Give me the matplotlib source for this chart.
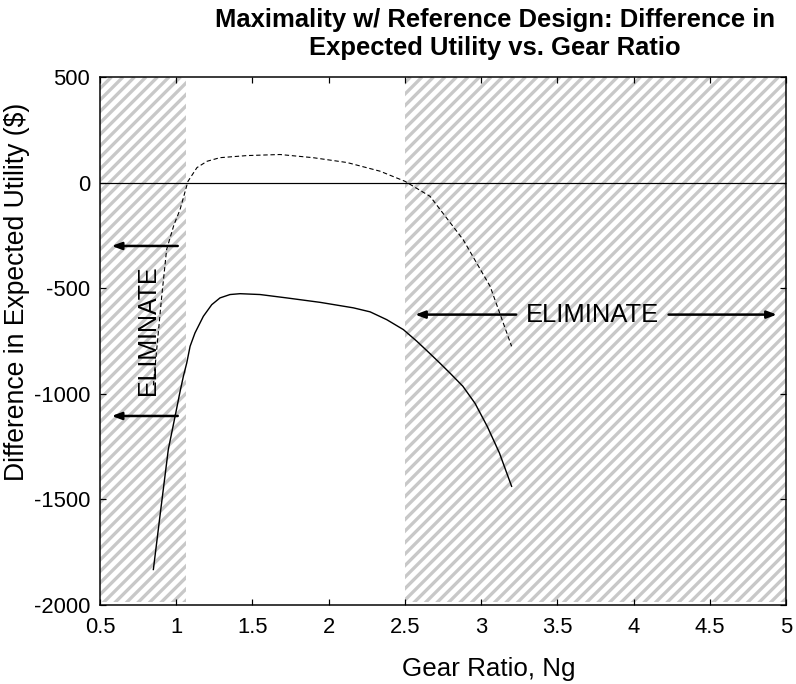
import numpy as np
import matplotlib
matplotlib.use("Agg")
import matplotlib.pyplot as plt
from matplotlib.collections import LineCollection
from matplotlib.patches import Rectangle
import matplotlib.transforms as mtransforms

plt.rcParams['font.family'] = ['Liberation Sans', 'DejaVu Sans']
plt.rcParams['axes.unicode_minus'] = False

# utility difference vs gear ratio
ng_solid = [0.85, 0.90, 0.948, 1.0, 1.025, 1.047, 1.069, 1.091, 1.123, 1.178,
            1.233, 1.287, 1.353, 1.419, 1.55, 1.725, 1.944, 2.162, 2.272,
            2.381, 2.49, 2.578, 2.665, 2.73, 2.80, 2.88, 2.96, 3.04, 3.12, 3.20]
du_solid = [-1832, -1540, -1264, -1080, -990, -917, -854, -775, -712, -633,
            -578, -546, -530, -526, -530, -546, -567, -593, -612,
            -649, -696, -751, -810, -855, -905, -964, -1045, -1154, -1280, -1438]

ng_dashed = [0.85, 0.872, 0.905, 0.937, 0.985, 1.025, 1.077, 1.136, 1.202, 1.287,
             1.465, 1.681, 1.898, 2.121, 2.337, 2.501, 2.665, 2.882, 3.059, 3.20]
du_dashed = [-960, -790, -538, -317, -200, -128, 6, 71, 101, 118,
             128, 133, 118, 95, 54, 6, -65, -270, -491, -775]

# regions ruled out
elim_low = [0.5, 1.064]
elim_high = [2.5, 5.0]
elim_y = [-1985, 500]

xticks = [0.5, 1, 1.5, 2, 2.5, 3, 3.5, 4, 4.5, 5]
xticklabels = ['0.5', '1', '1.5', '2', '2.5', '3', '3.5', '4', '4.5', '5']
yticks = [-2000, -1500, -1000, -500, 0, 500]

W, H = 796, 684
ax_w, ax_h = 686, 528
fig = plt.figure(figsize=(W / 72, H / 72), dpi=72)
ax = fig.add_axes([100 / W, 79 / H, ax_w / W, ax_h / H])

# diagonal stripe fill, laid out in axes pixels and clipped to each region
px = mtransforms.Affine2D().scale(1 / ax_w, 1 / ax_h) + ax.transAxes
offs = np.arange(-ax_h, ax_w + 12, 11.5)
segs = [[(c, 0), (c + ax_h, ax_h)] for c in offs]
for lo, hi in (elim_low, elim_high):
    box = Rectangle((lo, elim_y[0]), hi - lo, elim_y[1] - elim_y[0],
                    facecolor='none', edgecolor='none')
    ax.add_patch(box)
    lc = LineCollection(segs, colors='#c8c8c8', linewidths=3.3,
                        transform=px, zorder=0)
    ax.add_collection(lc)
    lc.set_clip_path(box)

ax.axhline(0, color='black', linewidth=1.2, zorder=2)
ax.plot(ng_dashed, du_dashed, color='black', linewidth=1.1,
        dashes=(4, 2.5), zorder=3)
ax.plot(ng_solid, du_solid, color='black', linewidth=1.4, zorder=3)

arrow = dict(arrowstyle='-|>,head_length=0.8,head_width=0.3',
             color='black', linewidth=2.5, shrinkA=0, shrinkB=0)
ax.annotate('', xy=(0.577, -300), xytext=(1.01, -300), arrowprops=arrow)
ax.annotate('', xy=(0.577, -1105), xytext=(1.01, -1105), arrowprops=arrow)
ax.text(0.815, -700, 'ELIMINATE', rotation=90, fontsize=25,
        ha='center', va='center')

ax.annotate('', xy=(2.567, -625), xytext=(3.23, -625), arrowprops=arrow)
ax.annotate('', xy=(4.94, -625), xytext=(4.23, -625), arrowprops=arrow)
ax.text(3.73, -625, 'ELIMINATE', fontsize=25.5, ha='center', va='center')

ax.set_xlim(0.5, 5)
ax.set_ylim(-2000, 500)
ax.set_xticks(xticks)
ax.set_xticklabels(xticklabels)
ax.set_yticks(yticks)
ax.tick_params(direction='in', length=6, width=1.2, labelsize=22,
               top=True, right=True)
ax.tick_params(axis='x', pad=12)
ax.tick_params(axis='y', pad=10)
for s in ax.spines.values():
    s.set_linewidth(1.5)

ax.set_xlabel('Gear Ratio, Ng', fontsize=26)
ax.xaxis.set_label_coords((489 - 100) / ax_w, -0.099)
ax.set_ylabel('Difference in Expected Utility ($)', fontsize=26.5)
ax.yaxis.set_label_coords(-0.102, 0.593)

fig.text(495 / W, 1 - 34 / H,
         'Maximality w/ Reference Design: Difference in\nExpected Utility vs. Gear Ratio',
         fontsize=25.6, fontweight='bold', ha='center', va='center',
         linespacing=1.2)

fig.savefig('out.png', dpi=72)
